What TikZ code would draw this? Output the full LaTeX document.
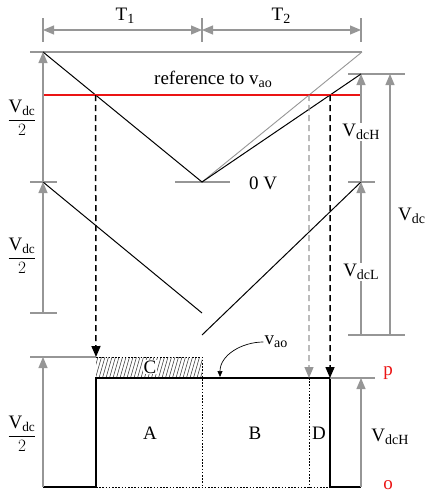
\documentclass[tikz,border=0pt]{standalone}
\usepackage{fontspec}
\setmainfont{Liberation Serif}
\usetikzlibrary{arrows.meta}
\definecolor{lg}{RGB}{150,150,150}
\definecolor{rd}{RGB}{235,20,20}
\newcommand{\halfvdc}{$\displaystyle\frac{\mathrm{V}_{\mathrm{dc}}}{2}$}
\newcommand{\lsub}[1]{\raisebox{-0.35ex}{\fontsize{14}{16}\selectfont #1}}
\begin{document}
\begin{tikzpicture}[x=1pt,y=-1pt,
  gline/.style={draw=lg,line width=1.1pt},
  garrow/.style={gline,-{Triangle[length=11pt,width=9pt]}},
  gdim/.style={gline,{Triangle[length=11pt,width=9pt]}-{Triangle[length=11pt,width=9pt]}},
  bline/.style={draw=black,line width=1pt},
  wave/.style={draw=black,line width=2.2pt},
  bdash/.style={draw=black,line width=1.5pt,dash pattern=on 6pt off 4pt},
  gdash/.style={draw=lg,line width=1.2pt,dash pattern=on 6pt off 4pt},
  bdot/.style={draw=black,line width=1pt,dash pattern=on 1.6pt off 1.6pt},
  lbl/.style={font=\fontsize{19}{22}\selectfont,inner sep=1pt},
  wlbl/.style={lbl,fill=white}]
\useasboundingbox (0,0) rectangle (424,493);
% key points
\coordinate (L0) at (43,52);
\coordinate (M0) at (202,182);
\coordinate (R0) at (361,74);
\coordinate (RG) at (362,52);
\coordinate (L1) at (43,182);
\coordinate (M1) at (202,313);
\coordinate (M2) at (202,335);
\coordinate (R1) at (361,182);
\coordinate (RL) at (43,95);
\coordinate (RR) at (361,95);
% time dimension
\draw[gline] (43,18) -- (43,42);
\draw[gline] (202,18) -- (202,42);
\draw[gline] (361,18) -- (361,42);
\draw[gdim] (43,30) -- (202,30);
\draw[gdim] (202,30) -- (361,30);
\node[lbl] (T1) at (125,16) {T\lsub{1}};
\node[lbl] (T2) at (281,16) {T\lsub{2}};
% ticks
\draw[gline] (30,52) -- (RG);
\draw[gline] (175,182) -- (230,182);
\draw[gline] (30,182) -- (57,182);
\draw[gline] (348,182) -- (375,182);
\draw[gline] (348,74) -- (405,74);
\draw[gline] (348,335) -- (405,335);
\draw[gline] (30,313) -- (57,313);
% carriers
\draw[gline,line width=0.9pt] (M0) -- (RG);
\draw[bline] (L0) -- (M0) -- (R0);
\draw[bline] (L1) -- (M1);
\draw[bline] (M2) -- (R1);
% reference
\draw[draw=rd,line width=2.2pt] (RL) -- (RR);
\node[lbl] (ref) at (213,79) {reference to v\lsub{ao}};
\node[lbl] (zero) at (263,183) {0 V};
% crossings
\coordinate (X1) at (intersection of L0--M0 and RL--RR);
\coordinate (X2) at (intersection of M0--RG and RL--RR);
\coordinate (X3) at (intersection of M0--R0 and RL--RR);
% left voltage arrows
\draw[garrow] (L1) -- (L0);
\draw[garrow] (43,313) -- (L1);
\node[lbl] (vh1) at (22,118) {\halfvdc};
\node[lbl] (vh2) at (22,256) {\halfvdc};
% right voltage arrows
\draw[garrow] (R1) -- (R0);
\node[wlbl] (vdch) at (361,132) {V\lsub{dcH}};
\draw[garrow] (361,335) -- (R1);
\node[wlbl] (vdcl) at (361,272) {V\lsub{dcL}};
\draw[garrow] (390,335) -- (390,74);
\node[lbl,anchor=west] (vdc) at (397,216) {V\lsub{dc}};
% bottom waveform
\coordinate (P1) at (96,378);
\coordinate (P2) at (330,378);
\coordinate (B1) at (96,487);
\coordinate (B2) at (330,487);
\coordinate (CT) at (96,357);
\coordinate (CR) at (202,357);
\begin{scope}
\clip (96,357) rectangle (202,378);
\foreach \x in {92,95.5,...,206} \draw[black!75,line width=0.6pt] (\x,378) -- (\x+6,357);
\end{scope}
\node[lbl,fill=white,inner sep=0.5pt] (C) at (150,367) {C};
\draw[gline] (30,357) -- (CT);
\draw[bdot] (CT) -- (CR) -- (202,487);
\draw[bdot] (B1) -- (B2);
\draw[bdot] (309,378) -- (309,487);
\draw[wave] (43,487) -- (B1) -- (P1) -- (P2) -- (B2) -- (361,487);
\draw[gline] (P2) -- (375,378);
% dashed projections
\draw[bdash,-{Triangle[length=11pt,width=9pt]}] (X1) -- (CT);
\draw[gdash,-{Triangle[length=11pt,width=9pt]}] (X2) -- (309,378);
\draw[bdash,-{Triangle[length=11pt,width=9pt]}] (X3) -- (P2);
% labels
\node[lbl] (A) at (150,433) {A};
\node[lbl] (B) at (255,433) {B};
\node[lbl] (D) at (319,433) {D};
\node[lbl,text=rd] (p) at (388,373) {p};
\node[lbl,text=rd] (o) at (388,485) {o};
\draw[garrow] (43,487) -- (43,357);
\node[lbl] (vh3) at (22,434) {\halfvdc};
\draw[garrow] (361,487) -- (361,378);
\node[lbl] (vdch2) at (390,437) {V\lsub{dcH}};
\node[lbl] (vao) at (276,342) {v\lsub{ao}};
\draw[black,line width=0.7pt,-{Triangle[length=6pt,width=5pt]}] (vao.west) to[out=180,in=90] (220,377);
\end{tikzpicture}
\end{document}
